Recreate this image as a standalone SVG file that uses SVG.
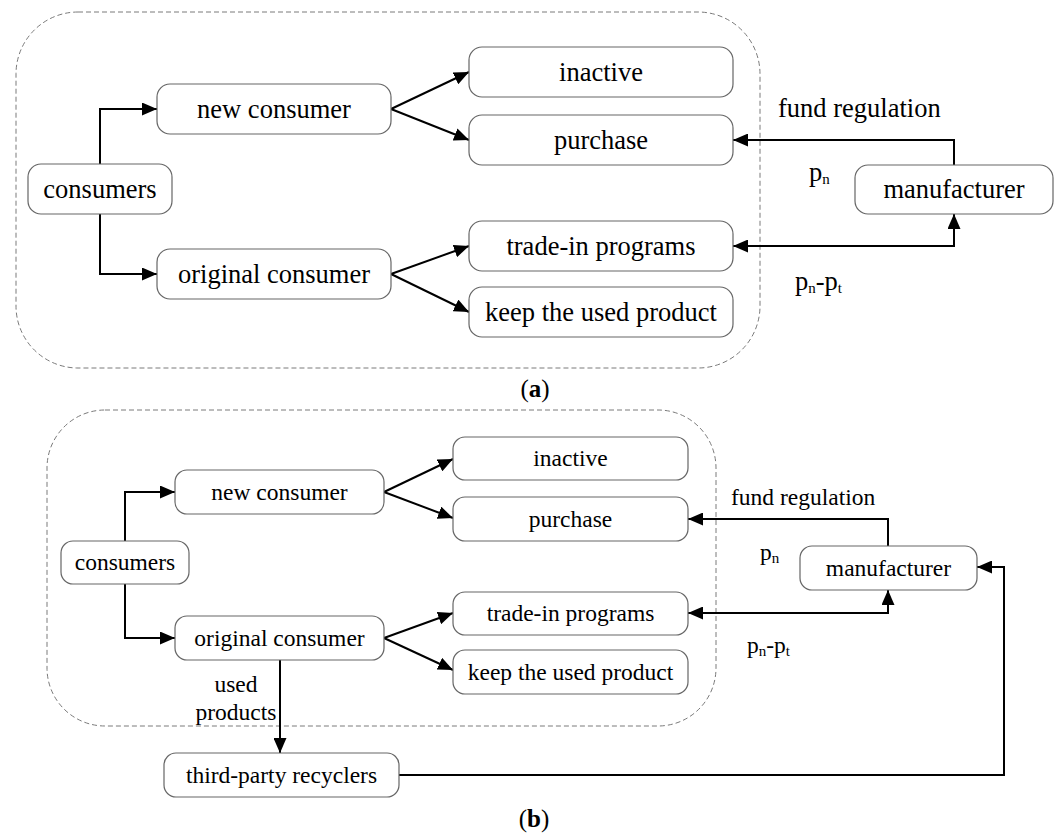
<svg xmlns="http://www.w3.org/2000/svg" width="1059" height="834" viewBox="0 0 1059 834">
<style>
.bg{fill:#ffffff}
.frame{fill:none;stroke:#7a7a7a;stroke-width:1;stroke-dasharray:5 3}
.box{fill:#ffffff;stroke:#666666;stroke-width:1.2}
.ta{font-family:"Liberation Serif","Times New Roman",serif;font-size:26.5px;fill:#000;text-anchor:middle}
.tb{font-family:"Liberation Serif","Times New Roman",serif;font-size:23.5px;fill:#000;text-anchor:middle}
.la{font-family:"Liberation Serif","Times New Roman",serif;font-size:26.5px;fill:#000}
.lb{font-family:"Liberation Serif","Times New Roman",serif;font-size:23.5px;fill:#000}
.cap{font-family:"Liberation Serif","Times New Roman",serif;font-size:25px;fill:#000;text-anchor:middle}
.sub{font-size:15px}
.edge{fill:none;stroke:#000;stroke-width:2;marker-end:url(#arr)}
.both{marker-start:url(#arrs)}
</style>
<defs>
<marker id="arr" markerUnits="userSpaceOnUse" markerWidth="15" markerHeight="13" refX="15" refY="6.5" orient="auto">
<path d="M0,0 L15,6.5 L0,13 z" fill="#000"/>
</marker>
<marker id="arrs" markerUnits="userSpaceOnUse" markerWidth="15" markerHeight="13" refX="15" refY="6.5" orient="auto-start-reverse">
<path d="M0,0 L15,6.5 L0,13 z" fill="#000"/>
</marker>
</defs>
<rect class="bg" x="0" y="0" width="1059" height="834"/>

<!-- part (a) -->
<g id="frame-a"><rect class="frame" x="16" y="12" width="744" height="356" rx="62" ry="62"/></g>
<g id="connectors-a">
<path class="edge" d="M100,164 V109 H157"/>
<path class="edge" d="M100,214 V274 H157"/>
<path class="edge" d="M391,109 L469,72"/>
<path class="edge" d="M391,109 L469,140"/>
<path class="edge" d="M391,274 L469,246"/>
<path class="edge" d="M391,274 L469,312"/>
<path class="edge" d="M954,165 V140 H733"/>
<path class="edge both" d="M954,214 V246 H733"/>
</g>
<g id="a-consumers"><rect class="box" x="28" y="164" width="144" height="50" rx="13"/><text class="ta" x="100" y="198">consumers</text></g>
<g id="a-new-consumer"><rect class="box" x="157" y="84" width="234" height="50" rx="13"/><text class="ta" x="274" y="118">new consumer</text></g>
<g id="a-original-consumer"><rect class="box" x="157" y="249" width="234" height="50" rx="13"/><text class="ta" x="274" y="283">original consumer</text></g>
<g id="a-inactive"><rect class="box" x="469" y="47" width="264" height="50" rx="13"/><text class="ta" x="601" y="81">inactive</text></g>
<g id="a-purchase"><rect class="box" x="469" y="115" width="264" height="50" rx="13"/><text class="ta" x="601" y="149">purchase</text></g>
<g id="a-trade-in"><rect class="box" x="469" y="221" width="264" height="50" rx="13"/><text class="ta" x="601" y="255">trade-in programs</text></g>
<g id="a-keep"><rect class="box" x="469" y="287" width="264" height="50" rx="13"/><text class="ta" x="601" y="321">keep the used product</text></g>
<g id="a-manufacturer"><rect class="box" x="855" y="165" width="198" height="49" rx="13"/><text class="ta" x="954" y="198">manufacturer</text></g>
<g id="a-labels">
<text class="la" x="778" y="117">fund regulation</text>
<text class="la" x="809" y="181">p<tspan class="sub" dy="3">n</tspan></text>
<text class="la" x="795" y="290">p<tspan class="sub" dy="3">n</tspan><tspan dy="-3">-p</tspan><tspan class="sub" dy="3">t</tspan></text>
<text class="cap" x="535" y="397">(<tspan font-weight="bold">a</tspan>)</text>
</g>

<!-- part (b) -->
<g id="frame-b"><rect class="frame" x="47" y="410" width="669" height="316" rx="58" ry="58"/></g>
<g id="connectors-b">
<path class="edge" d="M125,541 V492 H175"/>
<path class="edge" d="M125,584 V638 H175"/>
<path class="edge" d="M384,492 L453,459"/>
<path class="edge" d="M384,492 L453,518"/>
<path class="edge" d="M384,638 L453,613"/>
<path class="edge" d="M384,638 L453,670"/>
<path class="edge" d="M280,660 V753"/>
<path class="edge" d="M888,546 V519 H688"/>
<path class="edge both" d="M888,590 V613 H688"/>
<path class="edge" d="M399,775 H1004 V567 H977"/>
</g>
<g id="b-consumers"><rect class="box" x="61" y="541" width="128" height="43" rx="12"/><text class="tb" x="125" y="570">consumers</text></g>
<g id="b-new-consumer"><rect class="box" x="175" y="470" width="209" height="44" rx="12"/><text class="tb" x="279.5" y="499.5">new consumer</text></g>
<g id="b-original-consumer"><rect class="box" x="175" y="616" width="209" height="44" rx="12"/><text class="tb" x="279.5" y="645.5">original consumer</text></g>
<g id="b-inactive"><rect class="box" x="453" y="437" width="235" height="43" rx="12"/><text class="tb" x="570.5" y="466">inactive</text></g>
<g id="b-purchase"><rect class="box" x="453" y="497" width="235" height="44" rx="12"/><text class="tb" x="570.5" y="526.5">purchase</text></g>
<g id="b-trade-in"><rect class="box" x="453" y="592" width="235" height="43" rx="12"/><text class="tb" x="570.5" y="621">trade-in programs</text></g>
<g id="b-keep"><rect class="box" x="453" y="650" width="235" height="44" rx="12"/><text class="tb" x="570.5" y="679.5">keep the used product</text></g>
<g id="b-manufacturer"><rect class="box" x="800" y="546" width="177" height="44" rx="12"/><text class="tb" x="888.5" y="575.5">manufacturer</text></g>
<g id="b-third-party"><rect class="box" x="164" y="753" width="235" height="44" rx="12"/><text class="tb" x="281.5" y="782.5">third-party recyclers</text></g>
<g id="b-labels">
<text class="tb" x="236" y="692">used</text>
<text class="tb" x="236" y="720">products</text>
<text class="lb" x="731" y="505">fund regulation</text>
<text class="lb" x="760" y="560">p<tspan class="sub" dy="3">n</tspan></text>
<text class="lb" x="747" y="653">p<tspan class="sub" dy="3">n</tspan><tspan dy="-3">-p</tspan><tspan class="sub" dy="3">t</tspan></text>
<text class="cap" x="534" y="827">(<tspan font-weight="bold">b</tspan>)</text>
</g>
</svg>
